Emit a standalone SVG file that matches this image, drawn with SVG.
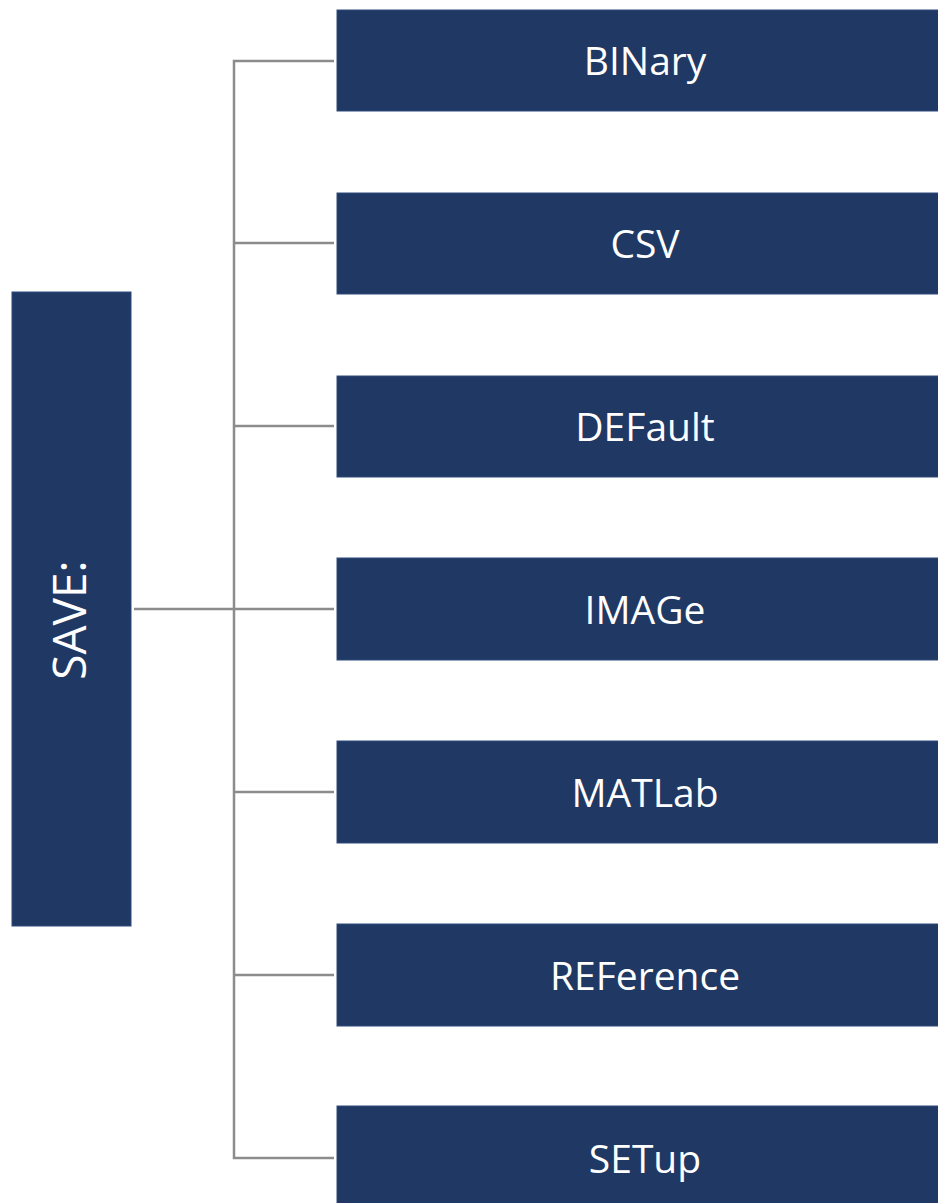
<svg xmlns="http://www.w3.org/2000/svg" width="938" height="1203" viewBox="0 0 938 1203">
<style>
.box{fill:#1f3864;stroke:#2e4a7a;stroke-width:1}
.lbl{font-family:"Open Sans","Liberation Sans",sans-serif;font-size:39px;fill:#ffffff;text-anchor:middle;dominant-baseline:central}
.big{font-size:46px}
.conn{stroke:#8c8c8c;stroke-width:2.5;fill:none}
</style>
<rect width="938" height="1203" fill="#ffffff"/>
<g id="connectors">
<path class="conn" d="M334,61 H234 V1158 H334"/>
<path class="conn" d="M134,609 H334"/>
<path class="conn" d="M234,243 H334 M234,426 H334 M234,792 H334 M234,975 H334"/>
</g>
<g id="save"><rect class="box" x="12" y="292" width="119" height="634"/><text class="lbl big" transform="translate(68,620) rotate(-90)">SAVE:</text></g>
<g id="binary"><rect class="box" x="337" y="10" width="616" height="101"/><text class="lbl" x="645" y="59">BINary</text></g>
<g id="csv"><rect class="box" x="337" y="193" width="616" height="101"/><text class="lbl" x="645" y="242">CSV</text></g>
<g id="default"><rect class="box" x="337" y="376" width="616" height="101"/><text class="lbl" x="645" y="425">DEFault</text></g>
<g id="image"><rect class="box" x="337" y="558" width="616" height="102"/><text class="lbl" x="645" y="608">IMAGe</text></g>
<g id="matlab"><rect class="box" x="337" y="741" width="616" height="102"/><text class="lbl" x="645" y="791">MATLab</text></g>
<g id="reference"><rect class="box" x="337" y="924" width="616" height="102"/><text class="lbl" x="645" y="974">REFerence</text></g>
<g id="setup"><rect class="box" x="337" y="1106" width="616" height="110"/><text class="lbl" x="645" y="1157">SETup</text></g>
</svg>
